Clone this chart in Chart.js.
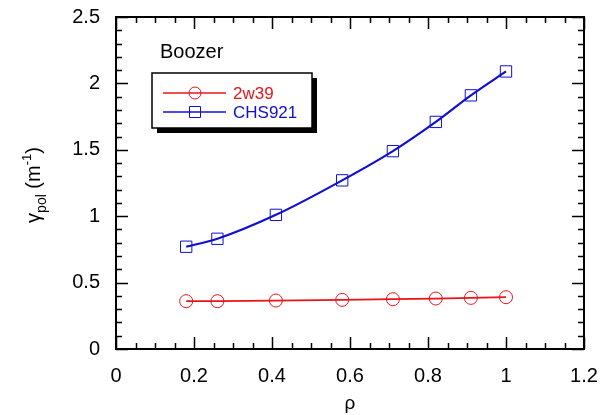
<!DOCTYPE html>
<html>
<head>
<meta charset="utf-8">
<script src="https://cdn.jsdelivr.net/npm/chart.js@4"></script>
<style>
  html, body { margin: 0; padding: 0; background: #fff; }
  #wrap { width: 600px; height: 415px; }
</style>
</head>
<body>
<div id="wrap"><canvas id="myChart" width="600" height="415"></canvas></div>
<script>
// data
const rho = [0.18, 0.26, 0.41, 0.58, 0.71, 0.82, 0.91, 1.0];
const gamma2w39 = [0.36, 0.36, 0.365, 0.37, 0.375, 0.38, 0.385, 0.39];
const gammaCHS921 = [0.77, 0.83, 1.01, 1.27, 1.49, 1.71, 1.91, 2.09];
const xTicks = [0, 0.2, 0.4, 0.6, 0.8, 1, 1.2];
const yTicks = [0, 0.5, 1, 1.5, 2, 2.5];

const FONT = 'Liberation Sans, Arial, sans-serif';

function pts(xs, ys) {
  return xs.map((x, i) => ({ x: x, y: ys[i] }));
}

// Frame with inward ticks on all four sides, legend box, labels
const frame = {
  id: 'frame',
  afterDatasetsDraw(chart) {
    const c = chart.ctx, a = chart.chartArea;
    const xs = chart.scales.x, ys = chart.scales.y;
    c.save();
    c.strokeStyle = '#000';
    c.lineWidth = 1.5;
    c.beginPath();
    for (let v = 0; v <= 1.2001; v += 0.05) {
      const p = Math.round(xs.getPixelForValue(v)) + 0.5;
      const major = Math.abs(v / 0.2 - Math.round(v / 0.2)) < 1e-6;
      const len = major ? 12 : 6;
      c.moveTo(p, a.bottom); c.lineTo(p, a.bottom - len);
      c.moveTo(p, a.top); c.lineTo(p, a.top + len);
    }
    for (let v = 0; v <= 2.5001; v += 0.1) {
      const p = Math.round(ys.getPixelForValue(v)) + 0.5;
      const major = Math.abs(v / 0.5 - Math.round(v / 0.5)) < 1e-6;
      const len = major ? 12 : 6;
      c.moveTo(a.left, p); c.lineTo(a.left + len, p);
      c.moveTo(a.right, p); c.lineTo(a.right - len, p);
    }
    c.stroke();
    c.lineWidth = 2;
    c.strokeRect(a.left, a.top, a.right - a.left, a.bottom - a.top);

    // "Boozer" label
    c.fillStyle = '#000';
    c.font = '20px ' + FONT;
    c.textBaseline = 'middle';
    c.fillText('Boozer', 160, 52);

    // legend box with shadow
    const bx = 152, by = 73, bw = 160, bh = 55;
    c.fillStyle = '#000';
    c.fillRect(bx + 5, by + 5, bw, bh);
    c.fillStyle = '#fff';
    c.fillRect(bx, by, bw, bh);
    c.lineWidth = 1.5;
    c.strokeRect(bx, by, bw, bh);

    const items = chart.data.datasets;
    const rows = [93, 112];
    items.forEach((ds, i) => {
      const y = rows[i];
      c.strokeStyle = ds.borderColor;
      c.lineWidth = 1.5;
      c.beginPath(); c.moveTo(163, y); c.lineTo(226, y); c.stroke();
      c.lineWidth = 1;
      c.beginPath();
      if (ds.pointStyle === 'circle') c.arc(195, y, 6, 0, Math.PI * 2);
      else c.rect(189.5, y - 5.5, 11, 11);
      c.stroke();
      c.fillStyle = ds.borderColor;
      c.font = '17px ' + FONT;
      c.fillText(ds.label, 233, y + 1);
    });

    // y axis title with sub/superscript
    c.save();
    c.translate(40, 185);
    c.rotate(-Math.PI / 2);
    c.fillStyle = '#000';
    c.textBaseline = 'alphabetic';
    const parts = [
      ['\u03b3', 20, 0], ['pol', 14, 6], [' (m', 20, 0], ['-1', 13, -9], [')', 20, 0]
    ];
    let total = 0;
    parts.forEach(p => { c.font = p[1] + 'px ' + FONT; total += c.measureText(p[0]).width; });
    let x = -total / 2;
    parts.forEach(p => {
      c.font = p[1] + 'px ' + FONT;
      c.fillText(p[0], x, p[2]);
      x += c.measureText(p[0]).width;
    });
    c.restore();
    c.restore();
  }
};

const ctx = document.getElementById('myChart');

new Chart(ctx, {
  type: 'scatter',
  data: {
    datasets: [
      {
        label: '2w39',
        data: pts(rho, gamma2w39),
        showLine: true,
        borderColor: '#e8141b',
        backgroundColor: 'rgba(0,0,0,0)',
        borderWidth: 1.8,
        pointStyle: 'circle',
        pointRadius: 6.5,
        pointBorderWidth: 1,
        tension: 0
      },
      {
        label: 'CHS921',
        data: pts(rho, gammaCHS921),
        showLine: true,
        borderColor: '#1010d0',
        backgroundColor: 'rgba(0,0,0,0)',
        borderWidth: 2.2,
        pointStyle: 'rect',
        pointRadius: 8,
        pointBorderWidth: 1,
        cubicInterpolationMode: 'monotone'
      }
    ]
  },
  options: {
    responsive: false,
    animation: false,
    layout: { padding: { left: 0, top: 17, right: 16, bottom: 0 } },
    plugins: {
      legend: { display: false },
      tooltip: { enabled: false }
    },
    scales: {
      x: {
        type: 'linear',
        min: 0, max: 1.2,
        afterBuildTicks(s) { s.ticks = xTicks.map(v => ({ value: v })); },
        afterFit(s) { s.height = 66; s.paddingLeft = 0; s.paddingRight = 0; },
        grid: { display: false, drawTicks: false },
        border: { display: false },
        ticks: {
          color: '#000',
          font: { family: FONT, size: 20 },
          padding: 15,
          maxRotation: 0,
          callback: v => String(v)
        },
        title: {
          display: true,
          text: '\u03c1',
          color: '#000',
          font: { family: FONT, size: 19 },
          padding: { top: 0, bottom: 0 }
        }
      },
      y: {
        type: 'linear',
        min: 0, max: 2.5,
        afterBuildTicks(s) { s.ticks = yTicks.map(v => ({ value: v })); },
        afterFit(s) { s.width = 116; s.paddingTop = 0; s.paddingBottom = 0; },
        grid: { display: false, drawTicks: false },
        border: { display: false },
        ticks: {
          color: '#000',
          font: { family: FONT, size: 20 },
          padding: 16,
          callback: v => String(v)
        }
      }
    }
  },
  plugins: [frame]
});
</script>
</body>
</html>
